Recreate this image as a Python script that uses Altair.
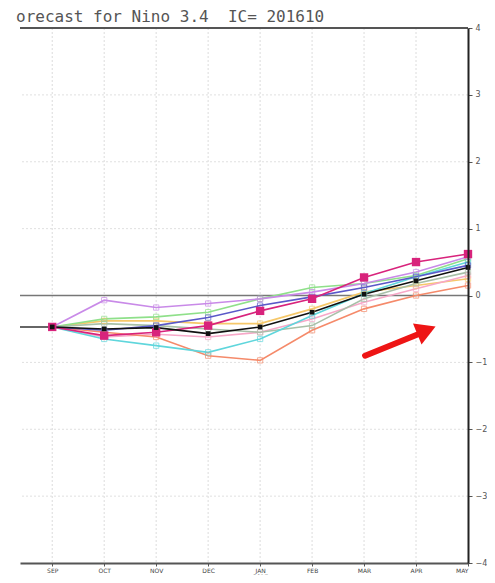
import altair as alt
import pandas as pd

months = ["SEP", "OCT", "NOV", "DEC", "JAN", "FEB", "MAR", "APR", "MAY"]
year_label = "2017"
title_text = "orecast for Nino 3.4\u00a0\u00a0IC= 201610"

# observed lead-in segment (month index, value)
obs_x = [-0.62, 0]
obs_y = [-0.47, -0.47]

# ensemble members, SEP..MAY
member_names = ["yellow", "pink", "green", "salmon", "gray", "cyan", "violet", "blue", "magenta", "mean"]
member_colors = ["#f6c86a", "#f7a8c8", "#8fe08a", "#f58a6a", "#a8c0a8", "#5fd6dc", "#c98ae8", "#5a58c8", "#d8237c", "#111111"]
yellow = [-0.47, -0.38, -0.38, -0.42, -0.42, -0.20, 0.05, 0.15, 0.25]
pink = [-0.47, -0.62, -0.58, -0.62, -0.55, -0.35, -0.10, 0.10, 0.30]
green = [-0.47, -0.35, -0.32, -0.25, -0.05, 0.12, 0.18, 0.30, 0.55]
salmon = [-0.47, -0.55, -0.62, -0.90, -0.97, -0.52, -0.20, 0.00, 0.15]
gray = [-0.47, -0.42, -0.45, -0.50, -0.55, -0.45, -0.05, 0.18, 0.35]
cyan = [-0.47, -0.65, -0.75, -0.85, -0.65, -0.30, 0.03, 0.28, 0.50]
violet = [-0.47, -0.07, -0.18, -0.12, -0.05, 0.05, 0.18, 0.35, 0.58]
blue = [-0.47, -0.52, -0.45, -0.33, -0.15, -0.02, 0.12, 0.28, 0.45]
magenta = [-0.47, -0.60, -0.55, -0.45, -0.23, -0.05, 0.27, 0.50, 0.62]
mean = [-0.47, -0.50, -0.48, -0.57, -0.47, -0.25, 0.02, 0.22, 0.42]
member_values = [yellow, pink, green, salmon, gray, cyan, violet, blue, magenta, mean]

# annotation arrow (month index, value)
arrow_x = [6.02, 7.10]
arrow_y = [-0.90, -0.56]
head_x = [7.20]
head_y = [-0.52]

grid_months = list(range(len(months) - 1))
grid_values = [-3, -2, -1, 1, 2, 3]
y_ticks = [-4, -3, -2, -1, 0, 1, 2, 3, 4]

rows = []
for name, vals in zip(member_names, member_values):
    for i, v in enumerate(vals):
        rows.append({"m": i, "v": v, "s": name, "o": member_names.index(name)})
df = pd.DataFrame(rows)

xscale = alt.Scale(domain=[-0.62, 8], nice=False, zero=False)
yscale = alt.Scale(domain=[-4, 4], nice=False, zero=False)
cscale = alt.Scale(domain=member_names, range=member_colors)

label_expr = ("datum.value == 4 ? ['JAN', '" + year_label + "'] : ["
              + ",".join("'" + m + "'" for m in months) + "][datum.value]")

xaxis = alt.Axis(values=list(range(len(months))), labelExpr=label_expr, title=None, grid=False,
                 labelFontSize=6, labelColor="#444", tickColor="#555", tickSize=3,
                 domainColor="#555", domainWidth=2, labelFont="DejaVu Sans", labelPadding=1,
                 zindex=1, labelLineHeight=6)
yaxis = alt.Axis(orient="right", values=y_ticks, format="d", title=None, grid=False,
                 labelFontSize=8, labelColor="#555", tickColor="#555", tickSize=4,
                 domainColor="#222", domainWidth=2, labelFont="DejaVu Sans", labelPadding=3,
                 zindex=1)

vgrid = alt.Chart(pd.DataFrame({"m": grid_months})).mark_rule(
    color="#dcdcdc", strokeDash=[2, 2], strokeWidth=1
).encode(x=alt.X("m:Q", scale=xscale, axis=xaxis))

hgrid = alt.Chart(pd.DataFrame({"v": grid_values})).mark_rule(
    color="#e0e0e0", strokeDash=[2, 2], strokeWidth=1
).encode(y=alt.Y("v:Q", scale=yscale, axis=yaxis))

top = alt.Chart(pd.DataFrame({"v": [4]})).mark_rule(color="#555", strokeWidth=2).encode(
    y=alt.Y("v:Q", scale=yscale))
zero = alt.Chart(pd.DataFrame({"v": [0]})).mark_rule(color="#777", strokeWidth=1.5).encode(
    y=alt.Y("v:Q", scale=yscale))

obs = alt.Chart(pd.DataFrame({"m": obs_x, "v": obs_y})).mark_line(
    color="#666", strokeWidth=2).encode(
    x=alt.X("m:Q", scale=xscale), y=alt.Y("v:Q", scale=yscale))

lines = alt.Chart(df).mark_line(strokeWidth=1.6).encode(
    x=alt.X("m:Q", scale=xscale),
    y=alt.Y("v:Q", scale=yscale),
    color=alt.Color("s:N", scale=cscale, legend=None),
    detail="s:N",
    order="o:Q",
)

light = df[~df["s"].isin(["magenta", "mean"])]
hollow = alt.Chart(light).mark_point(shape="square", size=28, filled=False, strokeWidth=1).encode(
    x=alt.X("m:Q", scale=xscale), y=alt.Y("v:Q", scale=yscale),
    color=alt.Color("s:N", scale=cscale, legend=None))

mag_pts = alt.Chart(df[df["s"] == "magenta"]).mark_point(
    shape="square", size=70, filled=True, opacity=1, color="#d8237c").encode(
    x=alt.X("m:Q", scale=xscale), y=alt.Y("v:Q", scale=yscale))
mean_pts = alt.Chart(df[df["s"] == "mean"]).mark_point(
    shape="square", size=22, filled=True, opacity=1, color="#111").encode(
    x=alt.X("m:Q", scale=xscale), y=alt.Y("v:Q", scale=yscale))

arrow = alt.Chart(pd.DataFrame({"x": [arrow_x[0]], "y": [arrow_y[0]], "x2": [arrow_x[1]], "y2": [arrow_y[1]]})).mark_rule(
    color="#ee1515", strokeWidth=6, strokeCap="round").encode(
    x=alt.X("x:Q", scale=xscale), y=alt.Y("y:Q", scale=yscale), x2="x2:Q", y2="y2:Q")
head = alt.Chart(pd.DataFrame({"x": head_x, "y": head_y})).mark_point(
    shape="triangle-up", size=520, filled=True, opacity=1, color="#ee1515", angle=68).encode(
    x=alt.X("x:Q", scale=xscale), y=alt.Y("y:Q", scale=yscale))

chart = alt.layer(vgrid, hgrid, top, zero, obs, lines, hollow, mag_pts, mean_pts, arrow, head).properties(
    width=448, height=535,
    title=alt.TitleParams(title_text, anchor="start", fontSize=16, font="DejaVu Sans Mono",
                          fontWeight="normal", color="#555", offset=-1),
    autosize="none",
    padding={"left": 12, "top": 20, "right": 19, "bottom": 12},
).configure_view(stroke=None)

chart.save("out.html", embed_options={"renderer": "svg", "actions": False})
